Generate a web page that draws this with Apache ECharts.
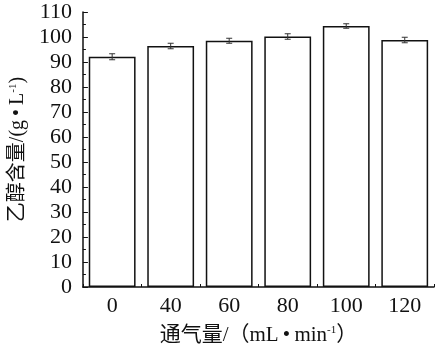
<!DOCTYPE html>
<html><head><meta charset="utf-8">
<script src="https://cdn.jsdelivr.net/npm/echarts@6/dist/echarts.min.js"></script>
<style>html,body{margin:0;padding:0;background:#fff}#c{width:437px;height:354px}</style>
</head><body><div id="c"></div>
<script>
const categories = ['0','40','60','80','100','120'];
const ethanol = [92.1, 96.4, 98.5, 100.2, 104.4, 98.8];
const errors = [1.2, 1.1, 1.0, 1.1, 0.9, 1.1];
const yTicks = {min: 0, max: 110, interval: 10};

const FONT = '"Liberation Serif","Noto Sans CJK SC",serif';
const chart = echarts.init(document.getElementById('c'));
const errData = ethanol.map((v, i) => [i, v - errors[i], v + errors[i]]);
const sup = {fontSize: 11, verticalAlign: 'top', fontFamily: FONT, color: '#111', padding: [0,0,6,0]};
chart.setOption({
  animation: false,
  grid: {left: 82, right: 3, top: 12, bottom: 67},
  xAxis: [{
    type: 'category', data: categories, position: 'bottom',
    axisLine: {lineStyle: {color: '#111', width: 1.5}},
    axisTick: {show: true, inside: true, length: 3, alignWithLabel: false, lineStyle: {color: '#111'}},
    axisLabel: {color: '#111', fontFamily: FONT, fontSize: 22, margin: 8},
    name: '通气量/（mL\u2009•\u2009min{s|-1}）', nameLocation: 'middle', nameGap: 38,
    nameTextStyle: {color: '#111', fontFamily: FONT, fontSize: 21, rich: {s: sup}}
  }, {
    type: 'category', data: categories, position: 'bottom',
    axisLine: {show: false},
    axisTick: {show: true, inside: true, length: 4, alignWithLabel: true, lineStyle: {color: '#111'}},
    axisLabel: {show: false}
  }],
  yAxis: {
    type: 'value', min: yTicks.min, max: yTicks.max, interval: yTicks.interval,
    axisLine: {show: true, lineStyle: {color: '#111', width: 1.5}},
    axisTick: {show: true, inside: true, length: 5, lineStyle: {color: '#111'}},
    minorTick: {show: true, splitNumber: 2, length: 3, lineStyle: {color: '#111'}},
    splitLine: {show: false},
    axisLabel: {color: '#111', fontFamily: FONT, fontSize: 22, margin: 11},
    name: '乙醇含量/(g\u2009•\u2009L{s|-1})', nameLocation: 'middle', nameGap: 49, nameRotate: 90,
    nameTextStyle: {color: '#111', fontFamily: FONT, fontSize: 20, rich: {s: sup}}
  },
  series: [{
    type: 'bar', data: ethanol, barCategoryGap: '20%',
    itemStyle: {color: '#fff', borderColor: '#111', borderWidth: 1.5}
  }, {
    type: 'custom', data: errData, z: 5,
    renderItem: function (params, api) {
      const x = api.coord([api.value(0), 0])[0];
      const lo = api.coord([api.value(0), api.value(1)]);
      const hi = api.coord([api.value(0), api.value(2)]);
      const w = 3;
      const st = {stroke: '#333', lineWidth: 1};
      return {type: 'group', children: [
        {type: 'line', shape: {x1: x, y1: lo[1], x2: x, y2: hi[1]}, style: st},
        {type: 'line', shape: {x1: x - w, y1: lo[1], x2: x + w, y2: lo[1]}, style: st},
        {type: 'line', shape: {x1: x - w, y1: hi[1], x2: x + w, y2: hi[1]}, style: st}
      ]};
    }
  }]
});
</script></body></html>
